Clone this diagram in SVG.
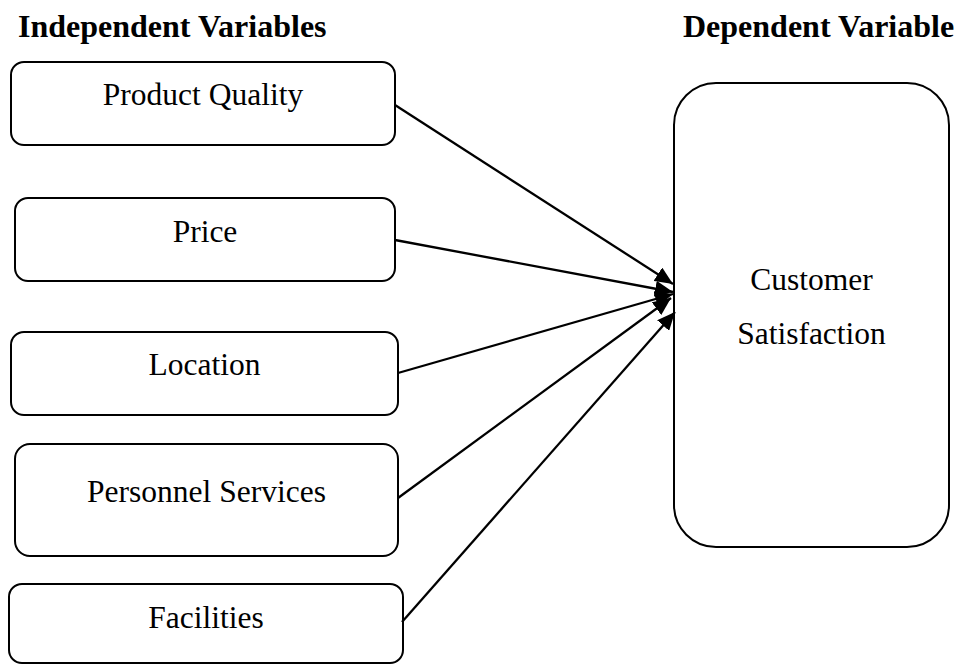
<svg xmlns="http://www.w3.org/2000/svg" width="960" height="664" viewBox="0 0 960 664">
  <style>
    .box { fill: #fff; stroke: #000; stroke-width: 2; }
    .label { font-family: "Liberation Serif", "Times New Roman", serif; font-size: 31.5px; fill: #000; text-anchor: middle; }
    .head { font-family: "Liberation Serif", "Times New Roman", serif; font-size: 32px; font-weight: bold; fill: #000; }
    .link { stroke: #000; stroke-width: 2.3; fill: none; marker-end: url(#arrow); }
  </style>
  <defs>
    <marker id="arrow" markerUnits="userSpaceOnUse" markerWidth="20" markerHeight="16" refX="18" refY="8" orient="auto">
      <path d="M0,0 L18,8 L0,16 Z" fill="#000"/>
    </marker>
  </defs>
  <rect width="960" height="664" fill="#fff"/>

  <text class="head" x="18" y="37">Independent Variables</text>
  <text class="head" x="683" y="37">Dependent Variable</text>

  <g id="product-quality">
    <rect class="box" x="11" y="62" width="384" height="83" rx="13"/>
    <text class="label" x="203" y="105">Product Quality</text>
  </g>
  <g id="price">
    <rect class="box" x="15" y="198" width="380" height="83" rx="13"/>
    <text class="label" x="205" y="242">Price</text>
  </g>
  <g id="location">
    <rect class="box" x="11" y="332" width="387" height="83" rx="13"/>
    <text class="label" x="204.5" y="375">Location</text>
  </g>
  <g id="personnel-services">
    <rect class="box" x="15" y="444" width="383" height="112" rx="15"/>
    <text class="label" x="206.5" y="502">Personnel Services</text>
  </g>
  <g id="facilities">
    <rect class="box" x="9" y="584" width="394" height="79" rx="13"/>
    <text class="label" x="206" y="628">Facilities</text>
  </g>
  <g id="customer-satisfaction">
    <rect class="box" x="674" y="83" width="275" height="464" rx="42"/>
    <text class="label" x="811.5" y="290">Customer</text>
    <text class="label" x="811.5" y="344">Satisfaction</text>
  </g>

  <g id="connectors">
    <line class="link" x1="395" y1="105" x2="673" y2="284"/>
    <line class="link" x1="395" y1="240" x2="673" y2="292"/>
    <line class="link" x1="398" y1="373" x2="673" y2="294"/>
    <line class="link" x1="398" y1="498" x2="671" y2="298"/>
    <line class="link" x1="402" y1="622" x2="675" y2="312"/>
  </g>
</svg>
